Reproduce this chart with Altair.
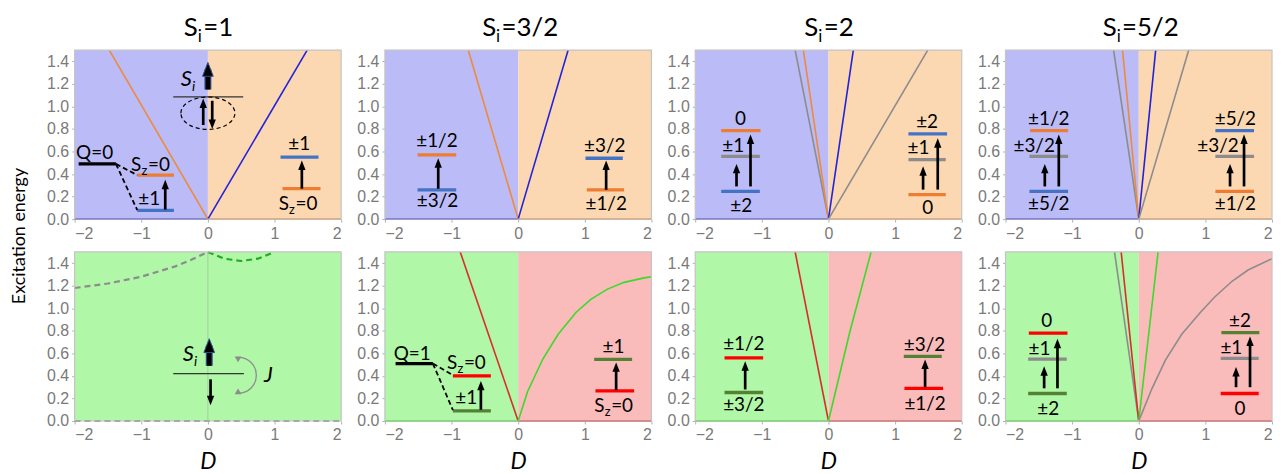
import altair as alt
import pandas as pd

# ---------------- data ----------------
COLUMN_TITLES = ["=1", "=3/2", "=2", "=5/2"]
X_TICKS = [-2, -1, 0, 1, 2]
Y_TICKS = [0.0, 0.2, 0.4, 0.6, 0.8, 1.0, 1.2, 1.4]
D_RANGE = [-2, 2]
E_RANGE = [0, 1.5]

# shaded regions: (D from, D to, region)
TOP_REGIONS = [(-2, 0, "lav"), (0, 2, "peach")]
BOT_REGIONS = [(-2, 0, "green"), (0, 2, "pink")]
BOT1_REGIONS = [(-2, 2, "green")]

# excitation-energy curves: (series, D values, E values)
TOP1_LINES = [("b", [-2, 0], [0, 0]), ("o", [0, 2], [0, 0]),
              ("o", [-1.48, 0], [1.5, 0]), ("b", [0, 1.49], [0, 1.5])]
TOP2_LINES = [("b", [-2, 0], [0, 0]), ("o", [0, 2], [0, 0]),
              ("o", [-0.75, 0], [1.5, 0]), ("b", [0, 0.75], [0, 1.5])]
TOP3_LINES = [("b", [-2, 0], [0, 0]), ("o", [0, 2], [0, 0]),
              ("g", [-0.50, 0], [1.5, 0]), ("o", [-0.377, 0], [1.5, 0]),
              ("b", [0, 0.373], [0, 1.5]), ("g", [0, 1.49], [0, 1.5])]
TOP4_LINES = [("b", [-2, 0], [0, 0]), ("o", [0, 2], [0, 0]),
              ("g", [-0.378, 0], [1.5, 0]), ("o", [-0.243, 0], [1.5, 0]),
              ("b", [0, 0.254], [0, 1.5]), ("g", [0, 0.75], [0, 1.5])]
BOT1_LINES = []
BOT1_DASHED = [("g", [-2, -1.5, -1, -0.5, -0.25, 0], [1.18, 1.22, 1.28, 1.37, 1.43, 1.5]),
               ("dg", [0, 0.25, 0.5, 0.75, 1.0], [1.5, 1.44, 1.42, 1.44, 1.5]),
               ("g", [-2, 2], [0, 0])]
BOT2_LINES = [("lg", [-2, 0], [0, 0]), ("r", [0, 2], [0, 0]),
              ("r", [-0.87, 0], [1.5, 0]),
              ("lg", [0, 0.14, 0.37, 0.60, 0.87, 1.09, 1.34, 1.59, 1.89, 2.0],
               [0, 0.26, 0.55, 0.77, 0.965, 1.08, 1.17, 1.23, 1.27, 1.28])]
BOT3_LINES = [("lg", [-2, 0], [0, 0]), ("r", [0, 2], [0, 0]),
              ("r", [-0.50, 0], [1.5, 0]), ("lg", [0, 0.32, 0.64], [0, 0.79, 1.5])]
BOT4_LINES = [("lg", [-2, 0], [0, 0]), ("r", [0, 2], [0, 0]),
              ("g", [-0.364, 0], [1.5, 0]), ("r", [-0.264, 0], [1.5, 0]),
              ("lg", [0, 0.29], [0, 1.5]),
              ("g", [0, 0.2, 0.4, 0.645, 0.92, 1.14, 1.4, 1.64, 2.0],
               [0, 0.29, 0.54, 0.77, 0.96, 1.10, 1.24, 1.34, 1.44])]

# level-scheme bars: (level, D from, D to, E)
TOP1_LEVELS = [("k", -1.94, -1.38, 0.49), ("o", -1.06, -0.51, 0.39), ("b", -1.06, -0.51, 0.077),
               ("b", 1.09, 1.66, 0.55), ("o", 1.12, 1.69, 0.27)]
TOP2_LEVELS = [("o", -1.51, -0.93, 0.57), ("b", -1.51, -0.93, 0.26),
               ("b", 1.01, 1.57, 0.54), ("o", 1.03, 1.59, 0.26)]
TOP3_LEVELS = [("o", -1.61, -1.02, 0.785), ("g", -1.61, -1.03, 0.556), ("b", -1.61, -1.03, 0.247),
               ("b", 1.20, 1.78, 0.756), ("g", 1.20, 1.76, 0.527), ("o", 1.20, 1.76, 0.218)]
TOP4_LEVELS = [("o", -1.63, -1.06, 0.785), ("g", -1.64, -1.06, 0.556), ("b", -1.64, -1.06, 0.247),
               ("b", 1.15, 1.73, 0.785), ("g", 1.15, 1.73, 0.556), ("o", 1.15, 1.73, 0.247)]
BOT2_LEVELS = [("k", -1.84, -1.28, 0.51), ("r", -0.98, -0.41, 0.40), ("dg", -0.98, -0.41, 0.09),
               ("dg", 1.14, 1.71, 0.547), ("r", 1.16, 1.74, 0.267)]
BOT3_LEVELS = [("r", -1.56, -0.98, 0.56), ("dg", -1.56, -0.98, 0.253),
               ("dg", 1.13, 1.70, 0.574), ("r", 1.14, 1.72, 0.29)]
BOT4_LEVELS = [("r", -1.65, -1.07, 0.78), ("g", -1.66, -1.08, 0.55), ("dg", -1.66, -1.08, 0.244),
               ("dg", 1.24, 1.81, 0.785), ("g", 1.23, 1.80, 0.556), ("r", 1.23, 1.80, 0.244)]

# thin reference lines of the spin sketches: (D from, D to, E)
TOP1_THIN = [(-0.52, 0.53, 1.085)]
BOT1_THIN = [(-0.52, 0.54, 0.42)]

# dashed splitting links: (D1, E1, D2, E2)
TOP1_LINKS = [(-1.38, 0.49, -1.06, 0.39), (-1.38, 0.49, -1.06, 0.08)]
BOT2_LINKS = [(-1.28, 0.51, -0.98, 0.406), (-1.28, 0.51, -0.98, 0.097)]

# transition arrows: (D, E from, E to)
TOP1_ARROWS = [(-0.64, 0.085, 0.35), (1.41, 0.27, 0.52), (-0.07, 0.835, 1.07), (0.065, 1.05, 0.80)]
TOP2_ARROWS = [(-1.2, 0.27, 0.54), (1.32, 0.26, 0.52)]
TOP3_ARROWS = [(-1.38, 0.29, 0.49), (-1.17, 0.29, 0.75), (1.42, 0.262, 0.468), (1.64, 0.262, 0.718)]
TOP4_ARROWS = [(-1.41, 0.29, 0.49), (-1.20, 0.29, 0.75), (1.37, 0.29, 0.49), (1.58, 0.29, 0.75)]
BOT1_ARROWS = [(0.04, 0.37, 0.14)]
BOT2_ARROWS = [(-0.56, 0.10, 0.356), (1.47, 0.274, 0.52)]
BOT3_ARROWS = [(-1.25, 0.28, 0.53), (1.45, 0.30, 0.545)]
BOT4_ARROWS = [(-1.42, 0.29, 0.485), (-1.22, 0.29, 0.73), (1.46, 0.30, 0.48), (1.67, 0.30, 0.75)]
TOP1_BIG_ARROWS = [(0.0, 1.15, 1.39)]
BOT1_BIG_ARROWS = [(0.02, 0.49, 0.73)]

# level labels: (text, D, E)
TOP1_LABELS = [("Q=0", -1.70, 0.585), ("±1", -0.88, 0.175), ("±1", 1.37, 0.67)]
TOP2_LABELS = [("±1/2", -1.22, 0.69), ("±3/2", -1.21, 0.16), ("±3/2", 1.30, 0.645), ("±1/2", 1.32, 0.135)]
TOP3_LABELS = [("0", -1.32, 0.89), ("±1", -1.43, 0.645), ("±2", -1.31, 0.115),
               ("±2", 1.48, 0.865), ("±1", 1.35, 0.63), ("0", 1.49, 0.10)]
TOP4_LABELS = [("±1/2", -1.35, 0.89), ("±3/2", -1.57, 0.645), ("±5/2", -1.35, 0.135),
               ("±5/2", 1.45, 0.89), ("±3/2", 1.19, 0.645), ("±1/2", 1.45, 0.135)]
BOT2_LABELS = [("Q=1", -1.59, 0.59), ("±1", -0.78, 0.20), ("±1", 1.43, 0.656)]
BOT3_LABELS = [("±1/2", -1.27, 0.68), ("±3/2", -1.27, 0.14), ("±3/2", 1.44, 0.67), ("±1/2", 1.45, 0.155)]
BOT4_LABELS = [("0", -1.38, 0.885), ("±1", -1.49, 0.64), ("±2", -1.36, 0.11),
               ("±2", 1.52, 0.885), ("±1", 1.39, 0.65), ("0", 1.52, 0.11)]

# "S_z=0" labels (centre D, E)
TOP1_SZ = [(-0.855, 0.48), (1.36, 0.135)]
BOT2_SZ = [(-0.77, 0.515), (1.44, 0.13)]
# italic "S_i" labels (right edge of S: D, E)
TOP1_SI = [(-0.24, 1.24)]
BOT1_SI = [(-0.21, 0.596)]
# italic "J" label and exchange arc (D, E)
BOT1_J = [(0.906, 0.406)]
BOT1_ARC = [(0.458, 0.406)]
BOT1_ARC_HEADS = [(0.44, 0.56, 30), (0.44, 0.25, 330)]
# dashed ellipse (singlet pair)
TOP1_ELLIPSE = [(0.0, 0.94)]

# ---------------- styles ----------------
W, H = 268, 170
LINE_COLORS = {"b": "#2222DD", "o": "#EE8A3C", "g": "#8C8C8C", "r": "#DD2A2A",
               "lg": "#3ADB2A", "dg": "#22AA22"}
LEVEL_COLORS = {"b": "#4472C4", "o": "#ED7D31", "g": "#8C8C8C", "r": "#FF0000",
                "dg": "#548235", "k": "#000000"}
BG_COLORS = {"lav": "#BBBBF7", "peach": "#FBD8B2", "green": "#B0F7A8", "pink": "#FABBBB"}
FONT = "Lato"
LABEL_SIZE = 19
HEAD_UP = "M0,0L0.85,2.2L-0.85,2.2Z"
HEAD_DOWN = "M0,0L0.85,-2.2L-0.85,-2.2Z"
ELLIPSE = "M-1,0A1,0.6,0,1,1,1,0A1,0.6,0,1,1,-1,0Z"
ARC = "M0,-1A1,1,0,0,1,0,1"

PANELS = [
    dict(regions=TOP_REGIONS, lines=TOP1_LINES, levels=TOP1_LEVELS, thin=TOP1_THIN,
         links=TOP1_LINKS, arrows=TOP1_ARROWS, big=TOP1_BIG_ARROWS, labels=TOP1_LABELS,
         sz=TOP1_SZ, si=TOP1_SI, ellipse=TOP1_ELLIPSE),
    dict(regions=TOP_REGIONS, lines=TOP2_LINES, levels=TOP2_LEVELS, arrows=TOP2_ARROWS, labels=TOP2_LABELS),
    dict(regions=TOP_REGIONS, lines=TOP3_LINES, levels=TOP3_LEVELS, arrows=TOP3_ARROWS, labels=TOP3_LABELS),
    dict(regions=TOP_REGIONS, lines=TOP4_LINES, levels=TOP4_LEVELS, arrows=TOP4_ARROWS, labels=TOP4_LABELS),
    dict(regions=BOT1_REGIONS, lines=BOT1_LINES, dashed=BOT1_DASHED, thin=BOT1_THIN, arrows=BOT1_ARROWS,
         big=BOT1_BIG_ARROWS, si=BOT1_SI, j=BOT1_J, arc=BOT1_ARC, archeads=BOT1_ARC_HEADS, vline=True),
    dict(regions=BOT_REGIONS, lines=BOT2_LINES, levels=BOT2_LEVELS, links=BOT2_LINKS,
         arrows=BOT2_ARROWS, labels=BOT2_LABELS, sz=BOT2_SZ),
    dict(regions=BOT_REGIONS, lines=BOT3_LINES, levels=BOT3_LEVELS, arrows=BOT3_ARROWS, labels=BOT3_LABELS),
    dict(regions=BOT_REGIONS, lines=BOT4_LINES, levels=BOT4_LEVELS, arrows=BOT4_ARROWS, labels=BOT4_LABELS),
]

xs = alt.Scale(domain=D_RANGE, nice=False, zero=False)
ys = alt.Scale(domain=E_RANGE, nice=False, zero=False)


def one_row():
    return pd.DataFrame({"a": [0]})


def make_panel(p, top, col):
    xaxis = alt.Axis(values=X_TICKS, format="d", title=None if top else "D")
    yaxis = alt.Axis(values=Y_TICKS, format=".1f", title=None)
    X = alt.X("D:Q", scale=xs, axis=xaxis)
    Y = alt.Y("E:Q", scale=ys, axis=yaxis)
    layers = []

    bg = pd.DataFrame([{"D": a, "D2": b, "E": E_RANGE[0], "E2": E_RANGE[1], "c": BG_COLORS[k]}
                       for a, b, k in p["regions"]])
    layers.append(alt.Chart(bg).mark_rect().encode(
        x=X, x2="D2", y=Y, y2="E2", color=alt.Color("c:N", scale=None)))

    if p.get("vline"):
        layers.append(alt.Chart(pd.DataFrame({"D": [0], "E": [0], "E2": [1.5]})).mark_rule(
            color="#A0D09A", strokeWidth=1).encode(x=X, y=Y, y2="E2"))

    def line_df(series):
        rows = []
        for i, (k, ds, es) in enumerate(series):
            for j, (d, e) in enumerate(zip(ds, es)):
                rows.append({"s": i, "o": j, "D": d, "E": e, "c": LINE_COLORS[k]})
        return pd.DataFrame(rows)

    if p.get("lines"):
        layers.append(alt.Chart(line_df(p["lines"])).mark_line(strokeWidth=1.6).encode(
            x=X, y=Y, detail="s:N", order="o:Q", color=alt.Color("c:N", scale=None)))
    if p.get("dashed"):
        layers.append(alt.Chart(line_df(p["dashed"])).mark_line(strokeWidth=2.2, strokeDash=[6, 4]).encode(
            x=X, y=Y, detail="s:N", order="o:Q", color=alt.Color("c:N", scale=None)))

    # frame
    layers.append(alt.Chart(one_row()).mark_rect(fillOpacity=0, stroke="#C4C4C4", strokeWidth=1.2).encode(
        x=alt.value(0), x2=alt.value(W), y=alt.value(0), y2=alt.value(H)))

    if p.get("levels"):
        lv = pd.DataFrame([{"D": a, "D2": b, "E": e, "c": LEVEL_COLORS[k]} for k, a, b, e in p["levels"]])
        layers.append(alt.Chart(lv).mark_rule(strokeWidth=3.3).encode(
            x=X, x2="D2", y=Y, color=alt.Color("c:N", scale=None)))
    if p.get("thin"):
        th = pd.DataFrame([{"D": a, "D2": b, "E": e} for a, b, e in p["thin"]])
        layers.append(alt.Chart(th).mark_rule(strokeWidth=1.3, color="#333333").encode(x=X, x2="D2", y=Y))
    if p.get("links"):
        lk = pd.DataFrame([{"D": a, "E": b, "D2": c, "E2": d} for a, b, c, d in p["links"]])
        layers.append(alt.Chart(lk).mark_rule(strokeWidth=1.8, strokeDash=[5, 3], color="black").encode(
            x=X, y=Y, x2="D2", y2="E2"))

    def arrows(lst, width, size, color="black", head_stroke=None):
        out = []
        rows = []
        off = 0.045 * size ** 0.5 / 8
        for d, e1, e2 in lst:
            up = e2 > e1
            rows.append({"D": d, "E": e1, "E2": e2 - off if up else e2 + off, "Et": e2, "up": up})
        df = pd.DataFrame(rows)
        out.append(alt.Chart(df).mark_rule(strokeWidth=width, color=color).encode(x=X, y=Y, y2="E2"))
        for flag, shape in ((True, HEAD_UP), (False, HEAD_DOWN)):
            sub = df[df["up"] == flag]
            if len(sub):
                kw = dict(shape=shape, size=size, filled=True, color=color, opacity=1)
                if head_stroke:
                    kw.update(stroke=head_stroke, strokeWidth=1)
                out.append(alt.Chart(sub).mark_point(**kw).encode(
                    x=X, y=alt.Y("Et:Q", scale=ys, axis=yaxis)))
        return out

    if p.get("arrows"):
        layers += arrows(p["arrows"], 2.7, 75)
    if p.get("big"):
        big = pd.DataFrame([{"D": d, "E": e1, "E2": e2 - 0.06} for d, e1, e2 in p["big"]])
        layers.append(alt.Chart(big).mark_rule(strokeWidth=7, color="#2F4F8F").encode(x=X, y=Y, y2="E2"))
        layers += arrows(p["big"], 4.6, 160, "black", "#2F4F8F")

    if p.get("ellipse"):
        el = pd.DataFrame([{"D": d, "E": e} for d, e in p["ellipse"]])
        layers.append(alt.Chart(el).mark_point(shape=ELLIPSE, size=2950, filled=False, color="black",
                                               strokeWidth=1.2, strokeDash=[4, 3], opacity=1).encode(x=X, y=Y))
    if p.get("arc"):
        ar = pd.DataFrame([{"D": d, "E": e} for d, e in p["arc"]])
        layers.append(alt.Chart(ar).mark_point(shape=ARC, size=1300, filled=False, color="#8C8C8C",
                                               strokeWidth=1.3, opacity=1).encode(x=X, y=Y))
        ah = pd.DataFrame([{"D": d, "E": e, "a": a} for d, e, a in p["archeads"]])
        layers.append(alt.Chart(ah).mark_point(shape="triangle-left", size=45, filled=True,
                                               color="#8C8C8C", opacity=1).encode(
            x=X, y=Y, angle=alt.Angle("a:Q", scale=None)))

    if p.get("labels"):
        lb = pd.DataFrame([{"t": t, "D": d, "E": e} for t, d, e in p["labels"]])
        layers.append(alt.Chart(lb).mark_text(font=FONT, fontSize=LABEL_SIZE, baseline="middle",
                                              align="center", color="black").encode(x=X, y=Y, text="t:N"))
    if p.get("sz"):
        sz = pd.DataFrame([{"D": d, "E": e} for d, e in p["sz"]])
        base = alt.Chart(sz)
        layers.append(base.mark_text(text="S", font=FONT, fontSize=LABEL_SIZE, baseline="middle", align="left",
                                     dx=-20, color="black").encode(x=X, y=Y))
        layers.append(base.mark_text(text="z", font=FONT, fontSize=13, baseline="middle", align="left",
                                     dx=-9.5, dy=6, color="black").encode(x=X, y=Y))
        layers.append(base.mark_text(text="=0", font=FONT, fontSize=LABEL_SIZE, baseline="middle", align="left",
                                     dx=-3, color="black").encode(x=X, y=Y))
    if p.get("si"):
        si = pd.DataFrame([{"D": d, "E": e} for d, e in p["si"]])
        base = alt.Chart(si)
        layers.append(base.mark_text(text="S", font=FONT, fontSize=22, fontStyle="italic", baseline="middle",
                                     align="right", color="black").encode(x=X, y=Y))
        layers.append(base.mark_text(text="i", font=FONT, fontSize=14, fontStyle="italic", baseline="middle",
                                     align="left", dx=0, dy=8, color="black").encode(x=X, y=Y))
    if p.get("j"):
        jj = pd.DataFrame([{"D": d, "E": e} for d, e in p["j"]])
        layers.append(alt.Chart(jj).mark_text(text="J", font=FONT, fontSize=22, fontStyle="italic",
                                              baseline="middle", align="center", color="black").encode(x=X, y=Y))

    if top:
        suffix = COLUMN_TITLES[col]
        wS, wi = 13.5, 6.0
        wsuf = sum(14.5 if ch != "/" else 9.5 for ch in suffix)
        x0 = W / 2 - (wS + wi + wsuf) / 2
        t = one_row()
        layers.append(alt.Chart(t).mark_text(text="S", font=FONT, fontSize=26, align="left",
                                             baseline="alphabetic", color="black").encode(
            x=alt.value(x0), y=alt.value(-14)))
        layers.append(alt.Chart(t).mark_text(text="i", font=FONT, fontSize=17, align="left",
                                             baseline="alphabetic", color="black").encode(
            x=alt.value(x0 + wS + 0.5), y=alt.value(-8)))
        layers.append(alt.Chart(t).mark_text(text=suffix, font=FONT, fontSize=26, align="left",
                                             baseline="alphabetic", color="black").encode(
            x=alt.value(x0 + wS + wi), y=alt.value(-14)))
        if col == 0:
            layers.append(alt.Chart(t).mark_text(text="Excitation energy", font=FONT, fontSize=18,
                                                 angle=270, align="center", baseline="middle",
                                                 color="black").encode(
                x=alt.value(-55), y=alt.value(H + 17)))

    return alt.layer(*layers).properties(width=W, height=H)


panels = [make_panel(PANELS[i], i < 4, i % 4) for i in range(8)]

chart = alt.concat(*panels, columns=4, spacing={"row": 33, "column": 44}, bounds="flush").properties(
    padding={"left": 3, "top": 6, "right": 0, "bottom": 0}
).configure_view(strokeWidth=0).configure_axis(
    labelFont="Liberation Sans", labelFontSize=16, labelColor="#7A7A7A",
    tickColor="#B0B0B0", tickSize=3, domain=False, grid=False, labelPadding=3,
    titleFont=FONT, titleFontSize=23, titleFontStyle="italic", titleFontWeight="normal",
    titleColor="black", titlePadding=8
)

chart.save("out.html", embed_options={"renderer": "svg", "actions": False})
